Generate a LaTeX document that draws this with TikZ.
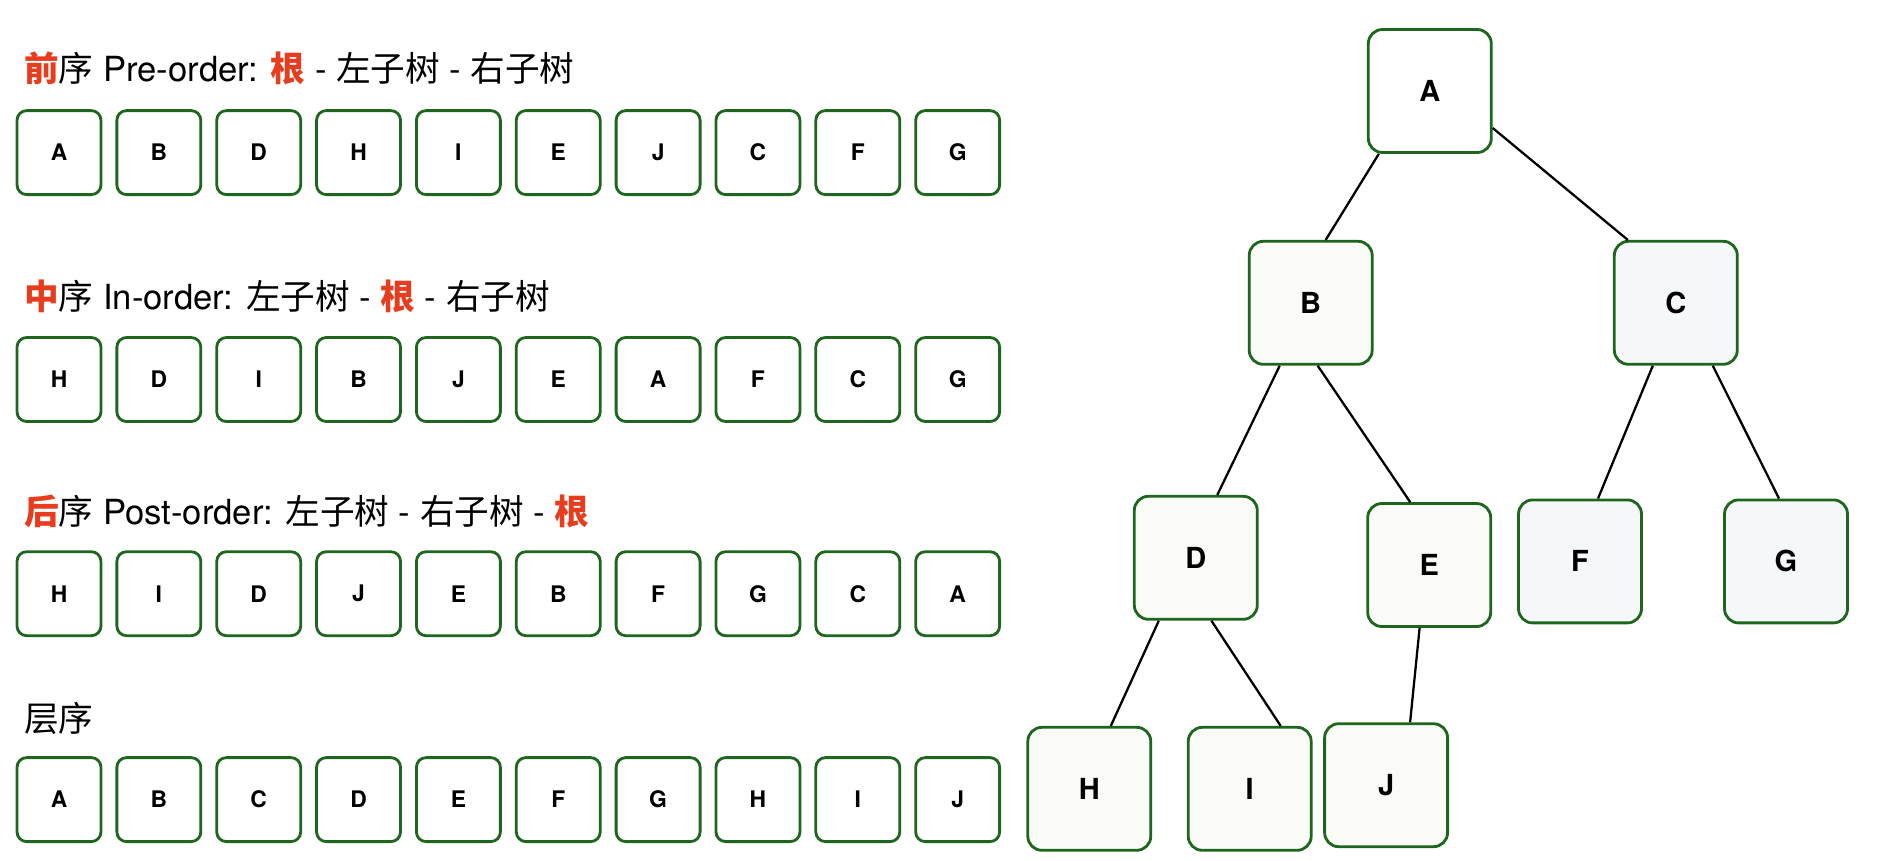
\documentclass[tikz,border=0pt]{standalone}
\usepackage{fontspec}
\setmainfont{TeX Gyre Heros}
\newfontfamily\cjk{Noto Sans CJK SC}
\usetikzlibrary{calc,positioning}
\definecolor{boxgreen}{RGB}{30,102,30}
\definecolor{hlred}{RGB}{232,60,30}
\definecolor{leftfill}{RGB}{250,250,246}
\definecolor{rightfill}{RGB}{245,247,251}
\newcommand{\zh}[1]{{\cjk #1}}
\newcommand{\hl}[1]{{\cjk\bfseries\color{hlred}#1}}
\tikzset{
  seqbox/.style={rectangle,draw=boxgreen,line width=1.6pt,rounded corners=5.5pt,fill=white,
    minimum size=1.68cm,inner sep=0pt,font=\bfseries\fontsize{13}{15}\selectfont},
  tnode/.style={rectangle,draw=boxgreen,line width=1.6pt,rounded corners=8pt,
    minimum size=2.46cm,inner sep=0pt,font=\bfseries\fontsize{16.5}{19}\selectfont},
  lnode/.style={tnode,fill=leftfill},
  rnode/.style={tnode,fill=rightfill},
  tedge/.style={line width=1.3pt},
  title/.style={anchor=west,inner sep=0pt,font=\fontsize{19.7}{24}\selectfont}
}
\begin{document}
\begin{tikzpicture}[x=0.02cm,y=-0.02cm]
\useasboundingbox (0,0) rectangle (1877,860);

% traversal orders
\node[title] (pretitle) at (24,68) {\hl{前}\zh{序} Pre-order: \hl{根} - \zh{左子树} - \zh{右子树}};
\foreach \v [count=\i] in {A,B,D,H,I,E,J,C,F,G}
  \node[seqbox] (pre\i) at ({59+99.85*(\i-1)},152.6) {\v};

\node[title] (intitle) at (24,296) {\hl{中}\zh{序} In-order: \zh{左子树} - \hl{根} - \zh{右子树}};
\foreach \v [count=\i] in {H,D,I,B,J,E,A,F,C,G}
  \node[seqbox] (in\i) at ({59+99.85*(\i-1)},379.5) {\v};

\node[title] (posttitle) at (24,511) {\hl{后}\zh{序} Post-order: \zh{左子树} - \zh{右子树} - \hl{根}};
\foreach \v [count=\i] in {H,I,D,J,E,B,F,G,C,A}
  \node[seqbox] (post\i) at ({59+99.85*(\i-1)},593.7) {\v};

\node[title] (lvltitle) at (24,718) {\zh{层序}};
\foreach \v [count=\i] in {A,B,C,D,E,F,G,H,I,J}
  \node[seqbox] (lvl\i) at ({59+99.85*(\i-1)},799.6) {\v};

% the tree
\node[tnode,fill=white] (A) at (1429.8,91) {A};
\node[lnode] (B) at (1310.7,302.8) {B};
\node[rnode] (C) at (1675.8,302.8) {C};
\node[lnode] (D) at (1195.8,557.8) {D};
\node[lnode] (E) at (1429.2,565) {E};
\node[rnode] (F) at (1580,561.4) {F};
\node[rnode] (G) at (1786,561.4) {G};
\node[lnode] (H) at (1089.3,788.8) {H};
\node[lnode] (I) at (1249.7,788.8) {I};
\node[lnode] (J) at (1386.1,785.2) {J};

\draw[tedge] ($(A.south)+(-51,0)$) -- ($(B.north)+(15,0)$);
\draw[tedge] ($(A.east)+(0,37)$) -- ($(C.north)+(-48,0)$);
\draw[tedge] ($(B.south)+(-31,0)$) -- ($(D.north)+(21.5,0)$);
\draw[tedge] ($(B.south)+(7,0)$) -- ($(E.north)+(-19,0)$);
\draw[tedge] ($(C.south)+(-23,0)$) -- ($(F.north)+(18,0)$);
\draw[tedge] ($(C.south)+(37,0)$) -- ($(G.north)+(-7,0)$);
\draw[tedge] ($(D.south)+(-37,0)$) -- ($(H.north)+(21.5,0)$);
\draw[tedge] ($(D.south)+(15.6,0)$) -- ($(I.north)+(31,0)$);
\draw[tedge] ($(E.south)+(-9.6,0)$) -- ($(J.north)+(24,0)$);
\end{tikzpicture}
\end{document}
